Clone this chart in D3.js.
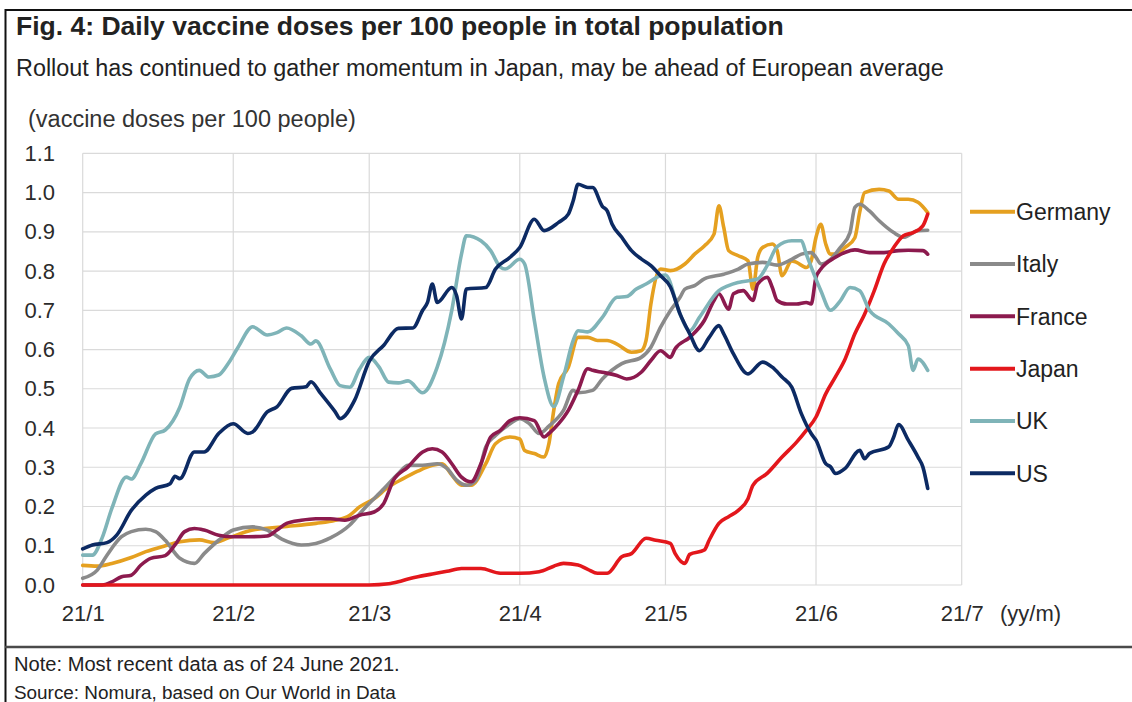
<!DOCTYPE html>
<html><head><meta charset="utf-8">
<script src="https://cdn.jsdelivr.net/npm/d3@7"></script>
<style>
body{margin:0;background:#fff;}
svg{display:block;font-family:"Liberation Sans",Arial,Helvetica,sans-serif;}
</style>
</head><body>
<svg id="chart" width="1132" height="702"></svg>
<script>
// ---------- DATA ----------
const titleText = "Fig. 4: Daily vaccine doses per 100 people in total population";
const subtitleText = "Rollout has continued to gather momentum in Japan, may be ahead of European average";
const unitText = "(vaccine doses per 100 people)";
const noteText = "Note: Most recent data as of 24 June 2021.";
const sourceText = "Source: Nomura, based on Our World in Data";

const seriesNames = ["Germany", "Italy", "France", "Japan", "UK", "US"];
const seriesColors = ["#e5a020", "#8a8a8a", "#8c1a4e", "#e3171c", "#7fb4b8", "#0c2a63"];

const xTickDates = ["2021-01-01","2021-02-01","2021-03-01","2021-04-01","2021-05-01","2021-06-01","2021-07-01"];
const xTickLabels = ["21/1","21/2","21/3","21/4","21/5","21/6","21/7"];
const xUnitLabel = "(yy/m)";
const yTicks = [0.0,0.1,0.2,0.3,0.4,0.5,0.6,0.7,0.8,0.9,1.0,1.1];

const germany = [["01-01",0.05],["01-04",0.048],["01-07",0.055],["01-11",0.07],["01-14",0.085],["01-18",0.1],["01-21",0.11],["01-25",0.115],["01-28",0.108],["01-31",0.12],["02-05",0.14],["02-11",0.148],["02-18",0.157],["02-22",0.165],["02-25",0.178],["02-27",0.199],["03-02",0.22],["03-05",0.25],["03-08",0.271],["03-11",0.29],["03-14",0.305],["03-16",0.309],["03-18",0.28],["03-20",0.254],["03-22",0.254],["03-25",0.309],["03-27",0.36],["03-30",0.377],["04-01",0.372],["04-02",0.343],["04-04",0.335],["04-06",0.326],["04-07",0.36],["04-08",0.445],["04-09",0.513],["04-11",0.555],["04-13",0.631],["04-15",0.631],["04-17",0.623],["04-19",0.623],["04-21",0.614],["04-24",0.593],["04-26",0.597],["04-27",0.623],["04-28",0.716],["04-30",0.805],["05-02",0.801],["05-05",0.818],["05-07",0.843],["05-09",0.864],["05-11",0.894],["05-12",0.966],["05-13",0.911],["05-14",0.852],["05-16",0.839],["05-18",0.826],["05-19",0.754],["05-20",0.835],["05-21",0.86],["05-23",0.869],["05-24",0.852],["05-25",0.788],["05-27",0.826],["05-28",0.822],["05-30",0.809],["05-31",0.826],["06-01",0.886],["06-02",0.919],["06-03",0.869],["06-04",0.843],["06-05",0.843],["06-07",0.86],["06-09",0.885],["06-10",0.95],["06-11",1.0],["06-14",1.008],["06-16",1.004],["06-18",0.983],["06-20",0.983],["06-22",0.975],["06-24",0.949]];

const italy = [["01-01",0.017],["01-04",0.038],["01-06",0.076],["01-09",0.123],["01-11",0.136],["01-14",0.142],["01-16",0.136],["01-18",0.114],["01-21",0.068],["01-24",0.055],["01-26",0.08],["01-29",0.114],["02-01",0.14],["02-05",0.148],["02-08",0.14],["02-11",0.117],["02-15",0.102],["02-18",0.106],["02-21",0.12],["02-25",0.153],["02-28",0.195],["03-04",0.245],["03-07",0.284],["03-09",0.305],["03-12",0.305],["03-15",0.309],["03-17",0.297],["03-19",0.267],["03-21",0.254],["03-23",0.267],["03-25",0.352],["03-27",0.381],["03-30",0.411],["04-01",0.424],["04-03",0.411],["04-05",0.386],["04-07",0.405],["04-10",0.445],["04-12",0.496],["04-13",0.49],["04-16",0.496],["04-18",0.525],["04-22",0.564],["04-26",0.58],["04-28",0.606],["04-30",0.657],["05-02",0.699],["05-04",0.733],["05-05",0.754],["05-07",0.763],["05-09",0.78],["05-13",0.792],["05-16",0.805],["05-18",0.818],["05-21",0.822],["05-24",0.815],["05-27",0.83],["05-29",0.843],["05-31",0.847],["06-01",0.835],["06-02",0.818],["06-04",0.83],["06-06",0.86],["06-08",0.898],["06-09",0.962],["06-10",0.97],["06-12",0.953],["06-14",0.928],["06-17",0.898],["06-19",0.886],["06-22",0.903],["06-24",0.904]];

const france = [["01-01",0],["01-05",0],["01-07",0.008],["01-09",0.021],["01-11",0.025],["01-13",0.051],["01-15",0.068],["01-18",0.075],["01-20",0.102],["01-22",0.136],["01-24",0.144],["01-26",0.14],["01-29",0.127],["02-01",0.123],["02-04",0.123],["02-08",0.125],["02-10",0.14],["02-12",0.157],["02-15",0.165],["02-18",0.169],["02-21",0.169],["02-24",0.165],["02-27",0.178],["03-02",0.186],["03-04",0.208],["03-06",0.267],["03-09",0.301],["03-12",0.339],["03-14",0.347],["03-16",0.339],["03-18",0.309],["03-20",0.275],["03-22",0.263],["03-24",0.309],["03-26",0.377],["03-28",0.394],["03-30",0.419],["04-01",0.426],["04-04",0.419],["04-06",0.377],["04-07",0.386],["04-09",0.411],["04-11",0.445],["04-13",0.496],["04-15",0.551],["04-16",0.547],["04-18",0.542],["04-21",0.534],["04-23",0.525],["04-26",0.542],["04-28",0.572],["04-30",0.597],["05-02",0.58],["05-03",0.602],["05-06",0.631],["05-09",0.674],["05-11",0.725],["05-12",0.742],["05-14",0.703],["05-15",0.742],["05-17",0.75],["05-19",0.725],["05-20",0.767],["05-22",0.784],["05-23",0.758],["05-24",0.725],["05-26",0.716],["05-28",0.716],["05-30",0.72],["05-31",0.716],["06-01",0.784],["06-02",0.805],["06-05",0.835],["06-08",0.852],["06-09",0.854],["06-12",0.847],["06-15",0.847],["06-18",0.852],["06-20",0.853],["06-23",0.852],["06-24",0.843]];

const japan = [["01-01",0],["03-01",0],["03-05",0.003],["03-07",0.008],["03-09",0.015],["03-11",0.021],["03-14",0.028],["03-17",0.035],["03-20",0.042],["03-24",0.042],["03-28",0.03],["04-01",0.03],["04-05",0.034],["04-08",0.048],["04-10",0.055],["04-13",0.051],["04-15",0.04],["04-17",0.03],["04-19",0.03],["04-22",0.072],["04-24",0.08],["04-27",0.119],["04-29",0.114],["05-02",0.106],["05-03",0.08],["05-05",0.055],["05-06",0.078],["05-09",0.089],["05-10",0.114],["05-12",0.157],["05-14",0.174],["05-16",0.19],["05-18",0.22],["05-19",0.254],["05-22",0.285],["05-25",0.326],["05-28",0.364],["05-30",0.394],["06-01",0.428],["06-03",0.487],["06-05",0.53],["06-07",0.576],["06-09",0.64],["06-11",0.69],["06-13",0.75],["06-15",0.818],["06-17",0.86],["06-19",0.89],["06-21",0.898],["06-23",0.915],["06-24",0.945]];

const uk = [["01-01",0.076],["01-03",0.076],["01-05",0.12],["01-07",0.195],["01-10",0.275],["01-11",0.27],["01-13",0.31],["01-16",0.385],["01-18",0.395],["01-21",0.453],["01-23",0.525],["01-25",0.547],["01-27",0.53],["01-29",0.535],["01-31",0.565],["02-02",0.606],["02-05",0.658],["02-08",0.637],["02-10",0.643],["02-12",0.655],["02-15",0.635],["02-17",0.614],["02-18",0.622],["02-21",0.55],["02-23",0.508],["02-25",0.504],["02-27",0.55],["03-01",0.58],["03-03",0.556],["03-05",0.517],["03-07",0.515],["03-09",0.52],["03-12",0.49],["03-15",0.555],["03-18",0.7],["03-20",0.843],["03-21",0.89],["03-24",0.877],["03-26",0.852],["03-28",0.81],["03-29",0.805],["04-01",0.83],["04-02",0.818],["04-04",0.674],["04-06",0.53],["04-08",0.455],["04-10",0.53],["04-12",0.623],["04-13",0.648],["04-15",0.645],["04-18",0.682],["04-21",0.733],["04-23",0.735],["04-25",0.754],["04-27",0.767],["04-30",0.788],["05-01",0.79],["05-04",0.69],["05-06",0.648],["05-08",0.682],["05-12",0.75],["05-14",0.763],["05-16",0.771],["05-20",0.78],["05-22",0.815],["05-24",0.862],["05-27",0.877],["05-29",0.877],["05-30",0.843],["06-02",0.75],["06-04",0.7],["06-06",0.724],["06-08",0.758],["06-10",0.75],["06-12",0.7],["06-16",0.665],["06-18",0.64],["06-20",0.61],["06-21",0.547],["06-22",0.576],["06-24",0.547]];

const us = [["01-01",0.092],["01-03",0.102],["01-06",0.108],["01-08",0.127],["01-11",0.19],["01-14",0.229],["01-16",0.246],["01-19",0.258],["01-20",0.277],["01-21",0.271],["01-24",0.339],["01-26",0.339],["01-29",0.386],["02-01",0.411],["02-04",0.386],["02-05",0.39],["02-08",0.441],["02-10",0.454],["02-13",0.501],["02-16",0.505],["02-17",0.518],["02-19",0.488],["02-22",0.441],["02-23",0.424],["02-26",0.471],["03-01",0.57],["03-04",0.611],["03-07",0.654],["03-10",0.655],["03-12",0.7],["03-13",0.72],["03-14",0.767],["03-15",0.72],["03-18",0.758],["03-19",0.737],["03-20",0.678],["03-21",0.754],["03-25",0.758],["03-27",0.805],["03-30",0.835],["04-01",0.86],["04-04",0.932],["04-06",0.903],["04-09",0.924],["04-11",0.945],["04-12",0.979],["04-13",1.021],["04-15",1.013],["04-16",1.013],["04-18",0.965],["04-19",0.953],["04-20",0.92],["04-22",0.886],["04-24",0.852],["04-26",0.831],["04-28",0.814],["04-30",0.788],["05-02",0.76],["05-04",0.691],["05-06",0.64],["05-08",0.597],["05-10",0.631],["05-12",0.661],["05-13",0.64],["05-15",0.589],["05-18",0.538],["05-21",0.568],["05-23",0.555],["05-25",0.53],["05-27",0.504],["05-29",0.436],["05-31",0.386],["06-01",0.369],["06-03",0.309],["06-04",0.301],["06-05",0.284],["06-07",0.297],["06-10",0.343],["06-11",0.322],["06-12",0.335],["06-16",0.352],["06-17",0.377],["06-18",0.409],["06-20",0.369],["06-22",0.326],["06-23",0.301],["06-24",0.246]];

const seriesData = [germany, italy, france, japan, uk, us];

// ---------- DRAWING ----------
const svg = d3.select("#chart");
const parse = d3.utcParse("%Y-%m-%d");
const plot = {left: 82.7, right: 961.7, top: 153.3, bottom: 585};

const x = d3.scaleUtc()
  .domain([parse(xTickDates[0]), parse(xTickDates[xTickDates.length - 1])])
  .range([plot.left, plot.right]);
const y = d3.scaleLinear().domain([0, 1.1]).range([plot.bottom, plot.top]);

const textColor = "#2b2b2b";

// frame
svg.append("path").attr("d", `M5.5,702 V10 H1132`).attr("fill", "none")
  .attr("stroke", "#111").attr("stroke-width", 2);

function fit(sel, target) {
  const w = sel.node().getComputedTextLength();
  const fs = parseFloat(sel.attr("font-size"));
  sel.attr("font-size", (fs * target / w).toFixed(2));
}

// titles
fit(svg.append("text").attr("x", 16).attr("y", 35).attr("font-size", 23).attr("font-weight", "bold")
  .attr("fill", "#222").text(titleText), 768);
fit(svg.append("text").attr("x", 16).attr("y", 76).attr("font-size", 20)
  .attr("fill", "#222").text(subtitleText), 928);
fit(svg.append("text").attr("x", 28).attr("y", 127).attr("font-size", 20)
  .attr("fill", "#333").text(unitText), 328);

// gridlines
const grid = svg.append("g").attr("stroke", "#dadada").attr("stroke-width", 1.2);
grid.selectAll("line.h").data(yTicks).join("line")
  .attr("x1", plot.left).attr("x2", plot.right)
  .attr("y1", d => y(d)).attr("y2", d => y(d));
grid.selectAll("line.v").data(xTickDates).join("line")
  .attr("x1", d => x(parse(d))).attr("x2", d => x(parse(d)))
  .attr("y1", plot.top).attr("y2", plot.bottom);

// y axis labels
const yAxis = d3.axisLeft(y).tickValues(yTicks).tickFormat(d3.format(".1f")).tickSize(0).tickPadding(0);
const gy = svg.append("g").attr("transform", `translate(55,0)`).call(yAxis);
gy.select(".domain").remove();
gy.selectAll("text").attr("font-size", 22).attr("fill", textColor)
  .attr("font-family", "'Liberation Sans', Arial, sans-serif");

// x axis labels
const xAxis = d3.axisBottom(x).tickValues(xTickDates.map(parse))
  .tickFormat((d, i) => xTickLabels[i]).tickSize(0).tickPadding(0);
const gx = svg.append("g").attr("transform", `translate(0,${plot.bottom})`).call(xAxis);
gx.select(".domain").remove();
gx.selectAll("text").attr("font-size", 22).attr("fill", textColor).attr("dy", null).attr("y", 36)
  .attr("font-family", "'Liberation Sans', Arial, sans-serif");
svg.append("text").attr("x", 1000).attr("y", plot.bottom + 36).attr("font-size", 22)
  .attr("fill", textColor).text(xUnitLabel);

// lines
const line = d3.line()
  .x(d => x(parse("2021-" + d[0])))
  .y(d => y(d[1]))
  .curve(d3.curveMonotoneX);
svg.append("g").selectAll("path").data(seriesData).join("path")
  .attr("d", line).attr("fill", "none")
  .attr("stroke", (d, i) => seriesColors[i])
  .attr("stroke-width", 3.6).attr("stroke-linejoin", "round").attr("stroke-linecap", "round");

// legend
const legendY = d3.scalePoint().domain(seriesNames).range([211.7, 473.3]);
const lg = svg.append("g").selectAll("g").data(seriesNames).join("g")
  .attr("transform", d => `translate(970,${legendY(d)})`);
lg.append("line").attr("x1", 0).attr("x2", 45).attr("y1", 0).attr("y2", 0)
  .attr("stroke", (d, i) => seriesColors[i]).attr("stroke-width", 4);
lg.append("text").attr("x", 46).attr("dy", "0.36em").attr("font-size", 23)
  .attr("fill", "#222").text(d => d);

// separator and notes
svg.append("line").attr("x1", 5).attr("x2", 1132).attr("y1", 647).attr("y2", 647)
  .attr("stroke", "#4a4a4a").attr("stroke-width", 2.5);
fit(svg.append("text").attr("x", 14).attr("y", 671).attr("font-size", 17)
  .attr("fill", "#222").text(noteText), 386);
fit(svg.append("text").attr("x", 14).attr("y", 699).attr("font-size", 17)
  .attr("fill", "#222").text(sourceText), 382);
</script>
</body></html>
